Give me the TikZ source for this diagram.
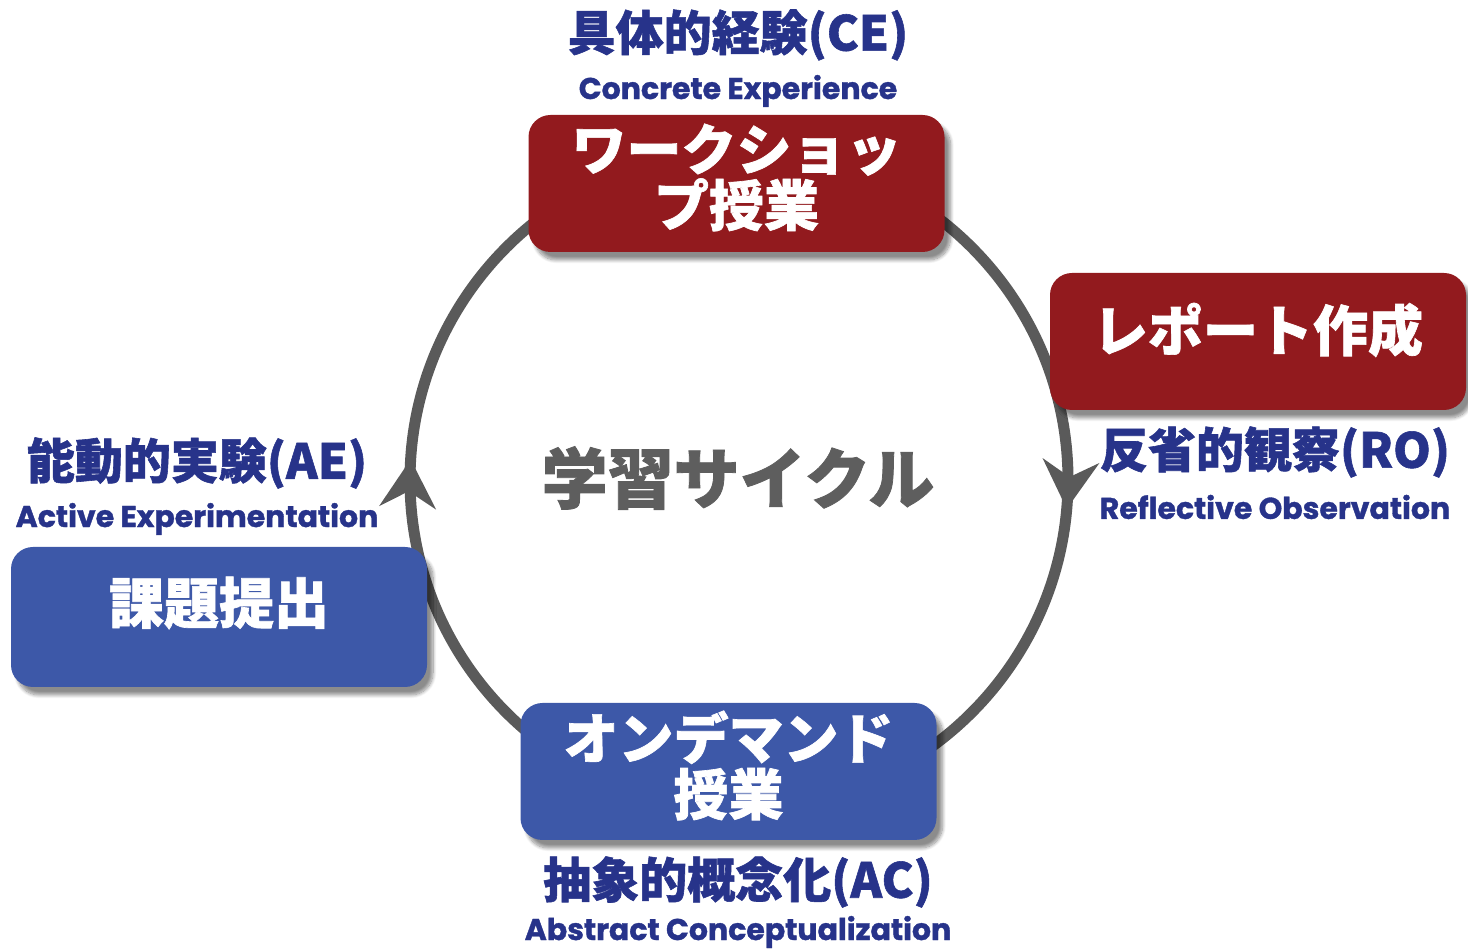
\documentclass[tikz,border=0pt]{standalone}
\usepackage{fontspec}
\newfontfamily\jp{Noto Sans CJK JP}[BoldFeatures={FakeBold=1.2}]
\newfontfamily\en{Poppins}[BoldFeatures={FakeBold=1.2}]
\usetikzlibrary{arrows.meta,shadows.blur,decorations.markings}
\definecolor{navy}{HTML}{27338A}
\definecolor{boxred}{HTML}{921A1E}
\definecolor{boxblue}{HTML}{3D58A8}
\definecolor{ringgray}{HTML}{5A5A5A}
\definecolor{centergray}{HTML}{5E5E5E}
\tikzset{
  box/.style={rounded corners=11pt, minimum width=208pt, minimum height=68.5pt,
    blur shadow={shadow xshift=3pt, shadow yshift=-4pt, shadow blur steps=10, shadow opacity=45}},
  redbox/.style={box, fill=boxred},
  bluebox/.style={box, fill=boxblue},
  boxtext/.style={text=white, font=\jp\bfseries\fontsize{27.5}{28}\selectfont, align=center, inner sep=0pt},
  jplabel/.style={text=navy, font=\jp\bfseries\fontsize{24}{26}\selectfont, inner sep=0pt},
  enlabel/.style={text=navy, font=\en\bfseries\fontsize{15}{17}\selectfont, inner sep=0pt},
  cyclearrow/.tip={Stealth[length=24pt,width=28pt,inset=8pt]},
}
\begin{document}
\begin{tikzpicture}[x=0.5pt,y=0.5pt]
\useasboundingbox (0,0) rectangle (1468,952);
% cycle ring
\coordinate (c) at (739,472);
\coordinate (ringtop) at (739,801);
\draw[ringgray, line width=5.5pt,
  postaction={decorate, decoration={markings,
    mark=at position 0.264 with {\arrow{cyclearrow}},
    mark=at position 0.760 with {\arrow{cyclearrow}}}}]
  (ringtop) arc[start angle=90, end angle=-270, radius=329];
% center title
\node[text=centergray, font=\jp\bfseries\fontsize{33}{35}\selectfont, inner sep=0pt] (title) at (738,474) {学習サイクル};
% boxes
\node[redbox] (ce) at (736.5,768.5) {};
\node[boxtext] (cet) at (736.5,774.5) {ワークショッ\\プ授業};
\node[redbox] (ro) at (1258,610.5) {};
\node[boxtext] (rot) at (1258,622) {レポート作成};
\node[bluebox, minimum height=70pt] (ae) at (219,335) {};
\node[boxtext] (aet) at (219,349) {課題提出};
\node[bluebox] (ac) at (728.5,180.5) {};
\node[boxtext] (act) at (728.5,186.5) {オンデマンド\\授業};
% labels
\node[jplabel] (cej) at (738,917) {具体的経験(CE)};
\node[enlabel] (cee) at (738,861) {Concrete Experience};
\node[jplabel] (roj) at (1275,500) {反省的観察(RO)};
\node[enlabel] (roe) at (1275,445) {Reflective Observation};
\node[jplabel] (aej) at (197,489) {能動的実験(AE)};
\node[enlabel] (aee) at (197,433) {Active Experimentation};
\node[jplabel] (acj) at (738,70) {抽象的概念化(AC)};
\node[enlabel] (ace) at (738,20) {Abstract Conceptualization};
\end{tikzpicture}
\end{document}
